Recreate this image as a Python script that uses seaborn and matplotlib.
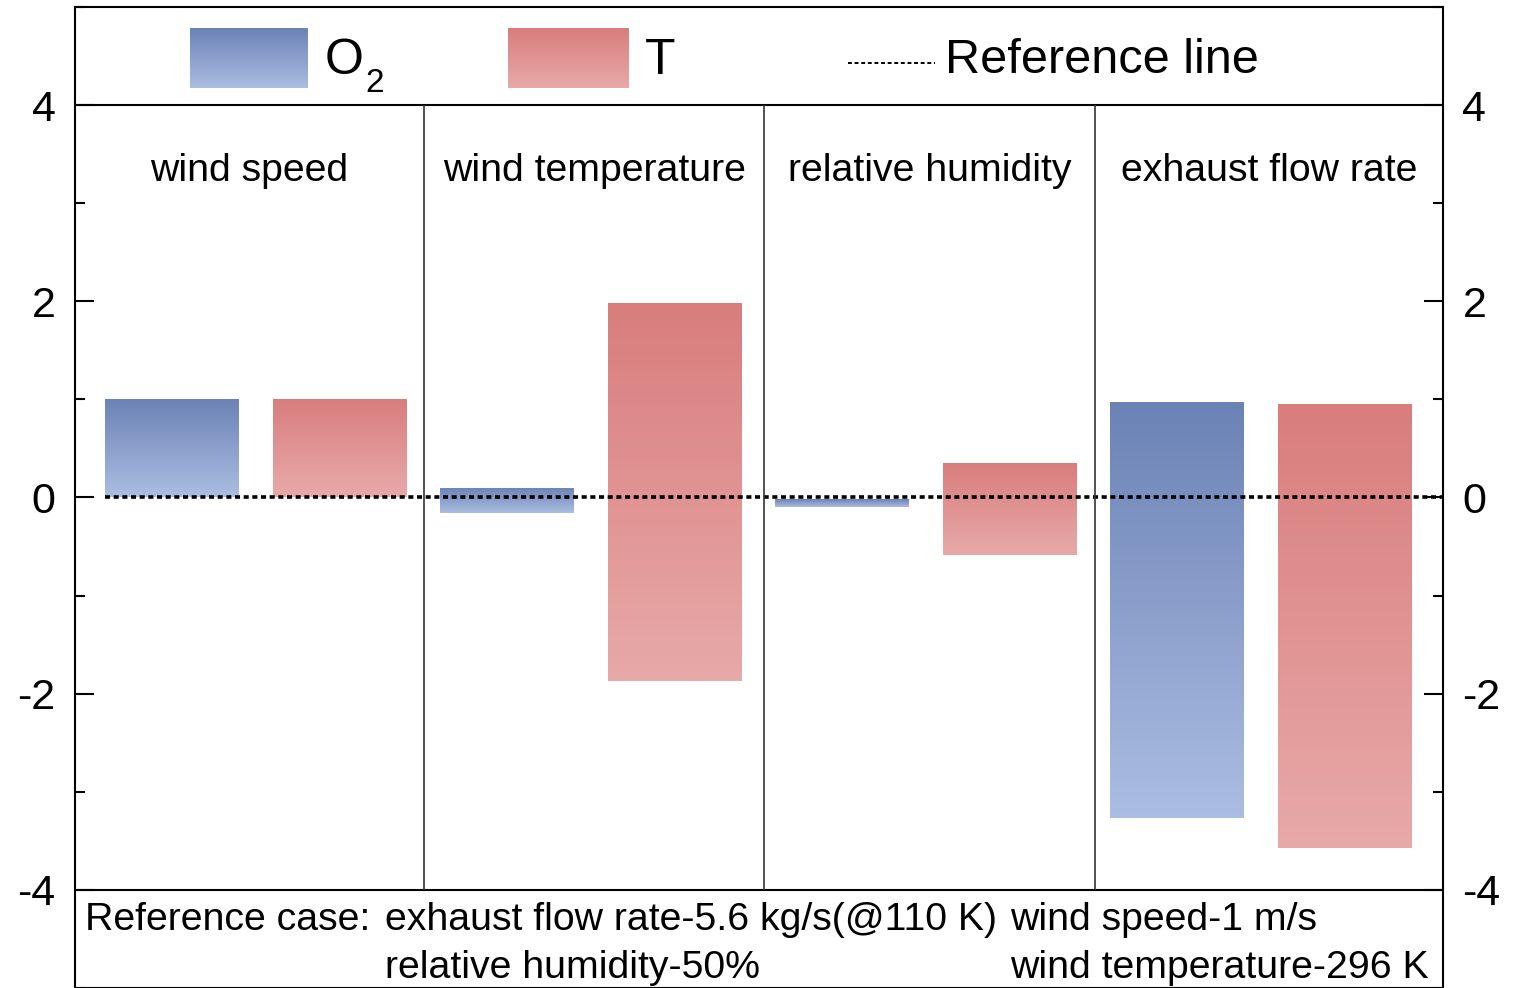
import numpy as np
import matplotlib
matplotlib.use("Agg")
import matplotlib.pyplot as plt
import seaborn as sns
from matplotlib.colors import LinearSegmentedColormap
from matplotlib.ticker import MultipleLocator

# ---------------- data ----------------
categories = ["wind speed", "wind temperature", "relative humidity", "exhaust flow rate"]
o2_top = [1.00, 0.10, -0.02, 0.97]
o2_bottom = [0.00, -0.16, -0.10, -3.27]
t_top = [1.00, 1.98, 0.35, 0.95]
t_bottom = [0.00, -1.87, -0.59, -3.57]
y_ticks = [-4, -2, 0, 2, 4]
legend_labels = ["O", "2", "T", "Reference line"]
case_title = "Reference case:"
case_items = ["exhaust flow rate-5.6 kg/s(@110 K)", "wind speed-1 m/s",
              "relative humidity-50%", "wind temperature-296 K"]

# ---------------- style ----------------
sns.set_theme(style="ticks")
plt.rcParams['font.family'] = ['Liberation Sans', 'DejaVu Sans']
plt.rcParams['axes.linewidth'] = 1.5
for k in ["text.color", "axes.labelcolor", "xtick.color", "ytick.color", "axes.edgecolor"]:
    plt.rcParams[k] = "black"

blue_top, blue_bot = "#6b82b5", "#abbde2"
red_top, red_bot = "#d97d7d", "#e8a9a9"

fig = plt.figure(figsize=(15.18, 9.88), dpi=100)
ax = fig.add_axes([75 / 1518, 0.0, 1368 / 1518, 981 / 988])

idx = np.arange(len(categories))
offset = 0.25
bar_w = 0.4


def gradient_bars(xpos, bottoms, tops, c_top, c_bot):
    heights = np.array(tops) - np.array(bottoms)
    n_before = len(ax.patches)
    sns.barplot(x=xpos, y=heights, bottom=np.array(bottoms), native_scale=True,
                width=bar_w, errorbar=None, color=c_top, linewidth=0, ax=ax, zorder=2)
    bars = ax.patches[n_before:]
    cmap = LinearSegmentedColormap.from_list("g", [c_bot, c_top])
    grad = np.linspace(0, 1, 256).reshape(-1, 1)
    for b in bars:
        x0, y0 = b.get_x(), b.get_y()
        w, h = b.get_width(), b.get_height()
        b.set_facecolor("none")
        im = ax.imshow(grad, cmap=cmap, extent=[x0, x0 + w, y0, y0 + h], origin="lower",
                       aspect="auto", interpolation="bilinear", zorder=2)
        im.set_clip_path(b)


gradient_bars(idx - offset, o2_bottom, o2_top, blue_top, blue_bot)
gradient_bars(idx + offset, t_bottom, t_top, red_top, red_bot)

xmin, xmax = -0.54, 3.544
ax.set_xlim(xmin, xmax)
ax.set_ylim(-5, 5)
ax.set_aspect("auto")

# reference line
ax.plot([-0.45, xmax], [0, 0], color="black", lw=2.6, ls=(0, (1.4, 1.0)), zorder=4)

# frame lines
ax.axhline(4, color="black", lw=1.5, zorder=5)
ax.axhline(-4, color="black", lw=1.5, zorder=5)
separators = [0.502, 1.517, 2.505]
ax.vlines(separators, -4, 4, color="#333333", lw=1.2, zorder=5)

# panel titles
bounds = [xmin] + separators + [xmax]
for i, name in enumerate(categories):
    cx = (bounds[i] + bounds[i + 1]) / 2
    ax.text(cx, 3.33, name, ha="center", va="center", fontsize=28.3, color="black")

# ticks
ax.set_xticks([])
ax.set_xlabel("")
ax.set_ylabel("")
ax.set_yticks(y_ticks)
ax.yaxis.set_minor_locator(MultipleLocator(1))
ax.tick_params(axis="y", which="both", direction="in", left=True, right=True,
               labelleft=True, labelright=True, width=1.5, colors="black",
               labelsize=31, pad=14)
ax.tick_params(axis="y", which="major", length=14)
ax.tick_params(axis="y", which="minor", length=7)
for s in ax.spines.values():
    s.set_color("black")
    s.set_linewidth(1.5)
ax.set_yticklabels([str(v) for v in y_ticks])

# legend (manual, in the top band)
grad = np.linspace(0, 1, 256).reshape(-1, 1)
for (x0, x1), (ct, cb) in zip([(-0.196, 0.156), (0.753, 1.112)],
                              [(blue_top, blue_bot), (red_top, red_bot)]):
    cmap = LinearSegmentedColormap.from_list("lg", [cb, ct])
    ax.imshow(grad, cmap=cmap, extent=[x0, x1, 4.175, 4.786], origin="lower",
              aspect="auto", interpolation="bilinear", zorder=3)
ax.set_xlim(xmin, xmax)
ax.set_ylim(-5, 5)
ax.text(0.205, 4.45, legend_labels[0], ha="left", va="center", fontsize=36)
ax.text(0.327, 4.22, legend_labels[1], ha="left", va="center", fontsize=24)
ax.text(1.16, 4.45, legend_labels[2], ha="left", va="center", fontsize=36)
ax.plot([1.768, 2.028], [4.43, 4.43], color="black", lw=1.4, ls=(0, (2, 1.4)), zorder=4)
ax.text(2.058, 4.45, legend_labels[3], ha="left", va="center", fontsize=35)

# reference case text (bottom band)
xt = ax.get_yaxis_transform()
fs_case = 28.3
ax.text(0.0073, -4.31, case_title, transform=xt, ha="left", va="center", fontsize=fs_case)
ax.text(0.2266, -4.31, case_items[0], transform=xt, ha="left", va="center", fontsize=fs_case)
ax.text(0.6835, -4.31, case_items[1], transform=xt, ha="left", va="center", fontsize=fs_case)
ax.text(0.2266, -4.80, case_items[2], transform=xt, ha="left", va="center", fontsize=fs_case)
ax.text(0.6835, -4.80, case_items[3], transform=xt, ha="left", va="center", fontsize=fs_case)

leg = ax.get_legend()
if leg is not None:
    leg.remove()

fig.savefig("out.png", dpi=100)
